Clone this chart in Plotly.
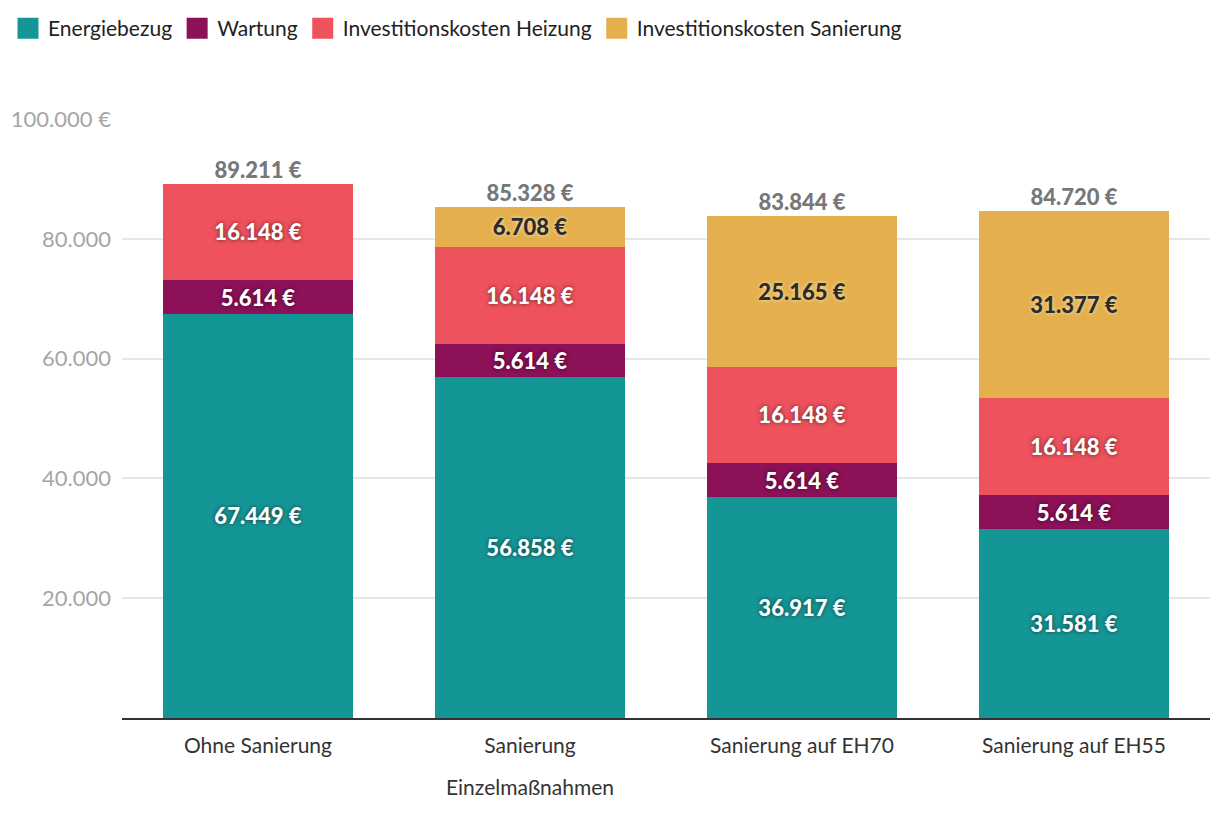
import plotly.graph_objects as go

categories = ["Ohne Sanierung", "Sanierung Einzelmaßnahmen", "Sanierung auf EH70", "Sanierung auf EH55"]
tick_labels = ["Ohne Sanierung", "Sanierung", "Sanierung auf EH70", "Sanierung auf EH55"]
tick_sublabels = ["", "Einzelmaßnahmen", "", ""]
series_names = ["Energiebezug", "Wartung", "Investitionskosten Heizung", "Investitionskosten Sanierung"]
energiebezug = [67449, 56858, 36917, 31581]
wartung = [5614, 5614, 5614, 5614]
heizung = [16148, 16148, 16148, 16148]
sanierung = [None, 6708, 25165, 31377]
tick_vals = [20000, 40000, 60000, 80000, 100000]
tick_text = ["20.000", "40.000", "60.000", "80.000", "100.000 €"]

colors = ["#159696", "#8C1158", "#EE525C", "#E4AF4C"]
series = [energiebezug, wartung, heizung, sanierung]

fig = go.Figure()
for name, vals, col in zip(series_names, series, colors):
    dark = col == "#E4AF4C"
    fig.add_trace(go.Bar(
        x=categories, y=vals, name=name, marker=dict(color=col, line=dict(width=0)),
        width=0.7, showlegend=False,
        texttemplate="%{y:,.0f} €", textposition="inside", insidetextanchor="middle",
        textangle=0, constraintext="none",
        textfont=dict(family="Lato", size=22, weight=900,
                      color="#2b2b2b" if dark else "#ffffff",
                      shadow="0px 0px 4px rgba(255,240,200,0.9)" if dark else "0px 0px 4px rgba(0,0,0,0.6)"),
        hoverinfo="skip",
    ))

# legend entries with large square swatches
for name, col in zip(series_names, colors):
    fig.add_trace(go.Scatter(
        x=[None], y=[None], mode="markers", name=name,
        marker=dict(symbol="square", size=16, color=col, line=dict(color=col, width=5)),
        hoverinfo="skip",
    ))

totals = [sum(v for v in col if v is not None) for col in zip(*series)]
fig.add_trace(go.Scatter(
    x=categories, y=totals, mode="text", texttemplate="%{y:,.0f} €",
    textposition="top center", showlegend=False, hoverinfo="skip",
    textfont=dict(family="Lato", size=22, weight=900, color="#777777"),
))

for cat, sub in zip(categories, tick_sublabels):
    if sub:
        fig.add_annotation(x=cat, xref="x", y=0, yref="paper", yanchor="top", yshift=-54,
                           text=sub, showarrow=False,
                           font=dict(family="Lato", size=21, color="#333333"))

fig.update_layout(
    barmode="stack", bargap=0.3,
    width=1212, height=806,
    margin=dict(l=114, r=10, t=111, b=96),
    paper_bgcolor="white", plot_bgcolor="white",
    separators=",.",
    font=dict(family="Lato", size=20, color="#222222"),
    legend=dict(orientation="h", xref="container", yref="container", x=0.0, y=1.0,
                xanchor="left", yanchor="top", font=dict(family="Lato", size=21, color="#222222"),
                itemsizing="trace", traceorder="normal", itemwidth=30),
    xaxis=dict(range=[-0.5, 3.5], showgrid=False, showline=True, linecolor="#333333", linewidth=2,
               ticks="", tickmode="array", tickvals=categories, ticktext=tick_labels,
               tickfont=dict(family="Lato", size=21, color="#333333"), ticklabelstandoff=8,
               automargin=False),
    yaxis=dict(range=[0, 100000], tickvals=tick_vals, ticktext=tick_text, showgrid=True,
               gridcolor="#e6e6e6", gridwidth=1.5, zeroline=False, showline=False,
               tickfont=dict(family="Lato", size=22, color="#a6a6a6"), ticklabelstandoff=10,
               automargin=False),
)

fig.write_html("out.html")
